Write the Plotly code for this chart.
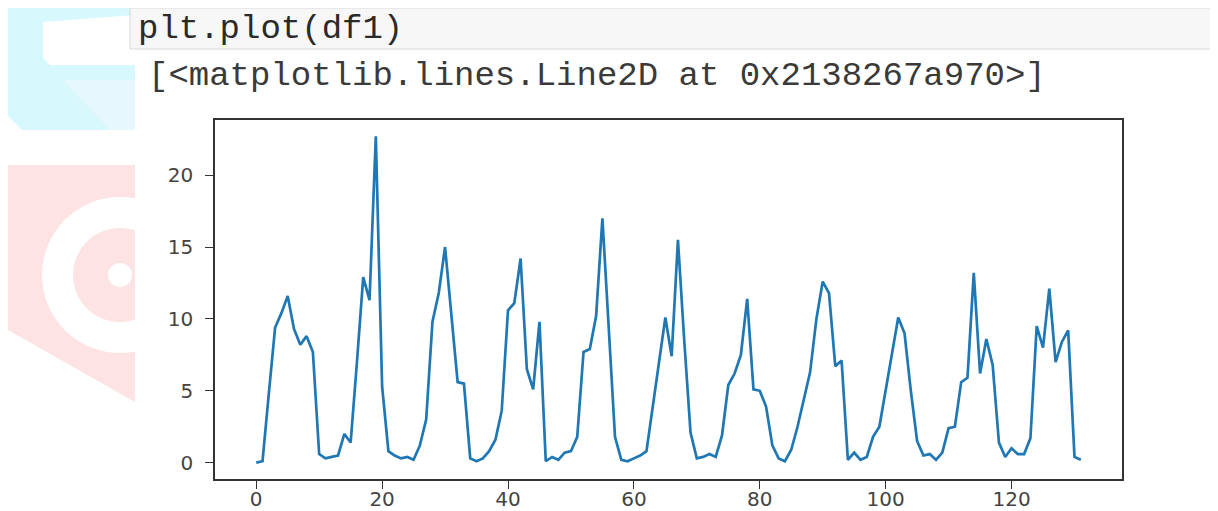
import plotly.graph_objects as go

# ---- data ----
x_index = list(range(132))
values = [
    0.0, 0.1, 4.8, 9.4, 10.4, 11.6, 9.3, 8.2, 8.8, 7.7,
    0.6, 0.3, 0.4, 0.5, 2.0, 1.4, 7.0, 12.9, 11.3, 22.7,
    5.3, 0.8, 0.5, 0.3, 0.4, 0.2, 1.2, 3.0, 9.8, 11.8,
    15.0, 10.3, 5.6, 5.5, 0.3, 0.1, 0.3, 0.8, 1.6, 3.6,
    10.6, 11.1, 14.2, 6.5, 5.1, 9.8, 0.1, 0.4, 0.2, 0.7,
    0.8, 1.8, 7.7, 7.9, 10.2, 17.0, 9.4, 1.8, 0.2, 0.1,
    0.3, 0.5, 0.8, 3.8, 7.0, 10.1, 7.4, 15.5, 8.5, 2.1,
    0.3, 0.4, 0.6, 0.4, 1.9, 5.4, 6.2, 7.5, 11.4, 5.1,
    5.0, 3.9, 1.2, 0.3, 0.1, 0.9, 2.5, 4.5, 6.3, 10.0,
    12.6, 11.8, 6.7, 7.1, 0.2, 0.7, 0.2, 0.4, 1.8, 2.5,
    5.0, 7.6, 10.1, 9.0, 5.0, 1.5, 0.5, 0.6, 0.2, 0.7,
    2.4, 2.5, 5.6, 5.9, 13.2, 6.2, 8.6, 6.8, 1.4, 0.4,
    1.0, 0.6, 0.6, 1.7, 9.5, 8.0, 12.1, 7.0, 8.4, 9.2,
    0.4, 0.2,
]
x_ticks = [0, 20, 40, 60, 80, 100, 120]
y_ticks = [0, 5, 10, 15, 20]
code_line = "plt.plot(df1)"
output_line = "[<matplotlib.lines.Line2D at 0x2138267a970>]"

# ---- layout geometry (window pixels; the page body adds an 8px offset) ----
WIN_W, WIN_H = 1218, 511
OFF = 8
W, H = WIN_W - OFF, WIN_H - OFF
FRAME_L, FRAME_R, FRAME_T, FRAME_B = 215, 1122, 120, 479
L = FRAME_L - OFF
T = FRAME_T - OFF
R = WIN_W - FRAME_R
B = WIN_H - FRAME_B
PW, PH = FRAME_R - FRAME_L, FRAME_B - FRAME_T


def px(x):
    return (x - FRAME_L) / PW


def py(y):
    return (FRAME_B - y) / PH


n = len(values)
vmin, vmax = min(values), max(values)
xpad = 0.05 * (n - 1)
ypad = 0.05 * (vmax - vmin)

fig = go.Figure()
fig.add_trace(go.Scatter(
    x=x_index, y=values, mode="lines",
    line=dict(color="#1f77b4", width=2.7),
    hoverinfo="skip", showlegend=False,
))

shapes = []


def rect(x0, y0, x1, y1, fill, line=None):
    shapes.append(dict(type="rect", xref="paper", yref="paper",
                       x0=px(x0), x1=px(x1), y0=py(y1), y1=py(y0),
                       fillcolor=fill, line=dict(width=0) if line is None else line,
                       layer="below"))


def poly(points, fill):
    d = "M " + " L ".join(f"{px(a):.5f},{py(b):.5f}" for a, b in points) + " Z"
    shapes.append(dict(type="path", xref="paper", yref="paper", path=d,
                       fillcolor=fill, line=dict(width=0), layer="below"))


def circle(cx, cy, r, fill):
    shapes.append(dict(type="circle", xref="paper", yref="paper",
                       x0=px(cx - r), x1=px(cx + r), y0=py(cy + r), y1=py(cy - r),
                       fillcolor=fill, line=dict(width=0), layer="below"))


# faint watermark in the left margin
poly([(8, 8), (135, 8), (135, 130), (22, 130), (8, 116)], "#d7f8fc")
poly([(43, 22), (135, 15), (135, 65), (50, 65), (43, 58)], "#ffffff")
poly([(63, 80), (135, 80), (135, 130), (110, 130)], "#e6f7fd")
poly([(8, 165), (135, 165), (135, 402), (8, 330)], "#fde3e3")
circle(120, 275, 78, "#ffffff")
circle(120, 275, 47, "#fde3e3")
circle(120, 275, 12, "#ffffff")
# faint top tints
rect(225, 8, 325, 12, "#fff0e0")
rect(545, 8, 725, 12, "#ffe8e0")
# white cover right of the watermark
rect(135, 8, WIN_W, WIN_H, "#ffffff")
rect(8, 130, 135, 165, "#ffffff")
# notebook input cell box
rect(130, 8, WIN_W + 5, 49, "#f7f7f7", line=dict(color="#d9d9d9", width=1))

fig.update_layout(shapes=shapes)

fig.add_annotation(x=px(136), y=py(29), xref="paper", yref="paper",
                   text=code_line, showarrow=False, xanchor="left", yanchor="middle",
                   font=dict(family="Liberation Mono, monospace", size=34, color="#2a2a2a"))
fig.add_annotation(x=px(146), y=py(76), xref="paper", yref="paper",
                   text=output_line, showarrow=False, xanchor="left", yanchor="middle",
                   font=dict(family="Liberation Mono, monospace", size=34, color="#3a3a3a"))

axis_common = dict(
    showgrid=False, zeroline=False, showline=True, mirror=True, automargin=False,
    linecolor="#333333", linewidth=1.6,
    ticks="outside", ticklen=8, tickwidth=1.4, tickcolor="#333333",
    tickfont=dict(family="DejaVu Sans, sans-serif", size=20, color="#444444"),
)
fig.update_xaxes(range=[-xpad, (n - 1) + xpad], tickvals=x_ticks,
                 ticktext=[str(v) for v in x_ticks], ticklabelstandoff=-7, **axis_common)
fig.update_yaxes(range=[vmin - ypad, vmax + ypad], tickvals=y_ticks,
                 ticktext=[str(v) for v in y_ticks], ticklabelstandoff=8, **axis_common)

fig.update_layout(
    width=W, height=H,
    margin=dict(l=L, r=R, t=T, b=B, pad=0),
    paper_bgcolor="#ffffff", plot_bgcolor="#ffffff",
    showlegend=False,
)

fig.write_html("out.html", include_plotlyjs=True, config={"displayModeBar": False})
